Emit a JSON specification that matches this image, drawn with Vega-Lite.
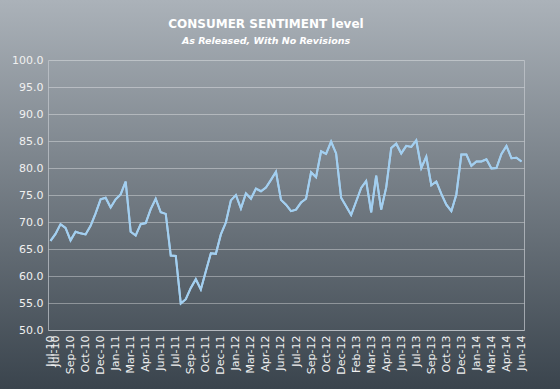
{
  "$schema": "https://vega.github.io/schema/vega-lite/v6.json",
  "width": 560,
  "height": 389,
  "autosize": {"type": "none"},
  "padding": 0,
  "background": "#3a444d",
  "title": {
    "text": "CONSUMER SENTIMENT level",
    "subtitle": "As Released, With No Revisions",
    "anchor": "middle",
    "frame": "group",
    "offset": -46,
    "dx": -14,
    "font": "DejaVu Sans",
    "fontSize": 12,
    "fontWeight": "bold",
    "color": "#ffffff",
    "subtitleFont": "DejaVu Sans",
    "subtitleFontSize": 9.5,
    "subtitleFontWeight": "bold",
    "subtitleFontStyle": "italic",
    "subtitleColor": "#ffffff",
    "subtitlePadding": 5
  },
  "data": {"values": [
    {"released": "2010-07-16", "sentiment": 66.5},
    {"released": "2010-07-30", "sentiment": 67.8},
    {"released": "2010-08-13", "sentiment": 69.6},
    {"released": "2010-08-27", "sentiment": 68.9},
    {"released": "2010-09-10", "sentiment": 66.6},
    {"released": "2010-09-24", "sentiment": 68.2},
    {"released": "2010-10-15", "sentiment": 67.9},
    {"released": "2010-10-29", "sentiment": 67.7},
    {"released": "2010-11-12", "sentiment": 69.3},
    {"released": "2010-11-24", "sentiment": 71.6},
    {"released": "2010-12-10", "sentiment": 74.2},
    {"released": "2010-12-22", "sentiment": 74.5},
    {"released": "2011-01-14", "sentiment": 72.7},
    {"released": "2011-01-28", "sentiment": 74.2},
    {"released": "2011-02-11", "sentiment": 75.1},
    {"released": "2011-02-25", "sentiment": 77.5},
    {"released": "2011-03-11", "sentiment": 68.2},
    {"released": "2011-03-25", "sentiment": 67.5},
    {"released": "2011-04-15", "sentiment": 69.6},
    {"released": "2011-04-29", "sentiment": 69.8},
    {"released": "2011-05-13", "sentiment": 72.4},
    {"released": "2011-05-27", "sentiment": 74.3},
    {"released": "2011-06-10", "sentiment": 71.8},
    {"released": "2011-06-24", "sentiment": 71.5},
    {"released": "2011-07-15", "sentiment": 63.8},
    {"released": "2011-07-29", "sentiment": 63.7},
    {"released": "2011-08-12", "sentiment": 54.9},
    {"released": "2011-08-26", "sentiment": 55.7},
    {"released": "2011-09-16", "sentiment": 57.8},
    {"released": "2011-09-30", "sentiment": 59.4},
    {"released": "2011-10-14", "sentiment": 57.5},
    {"released": "2011-10-28", "sentiment": 60.9},
    {"released": "2011-11-10", "sentiment": 64.2},
    {"released": "2011-11-23", "sentiment": 64.1},
    {"released": "2011-12-09", "sentiment": 67.7},
    {"released": "2011-12-22", "sentiment": 69.9},
    {"released": "2012-01-13", "sentiment": 74.0},
    {"released": "2012-01-27", "sentiment": 75.0},
    {"released": "2012-02-10", "sentiment": 72.5},
    {"released": "2012-02-24", "sentiment": 75.3},
    {"released": "2012-03-16", "sentiment": 74.3},
    {"released": "2012-03-30", "sentiment": 76.2},
    {"released": "2012-04-13", "sentiment": 75.7},
    {"released": "2012-04-27", "sentiment": 76.4},
    {"released": "2012-05-11", "sentiment": 77.8},
    {"released": "2012-05-25", "sentiment": 79.3},
    {"released": "2012-06-15", "sentiment": 74.1},
    {"released": "2012-06-29", "sentiment": 73.2},
    {"released": "2012-07-13", "sentiment": 72.0},
    {"released": "2012-07-27", "sentiment": 72.3},
    {"released": "2012-08-10", "sentiment": 73.6},
    {"released": "2012-08-31", "sentiment": 74.3},
    {"released": "2012-09-14", "sentiment": 79.2},
    {"released": "2012-09-28", "sentiment": 78.3},
    {"released": "2012-10-12", "sentiment": 83.1},
    {"released": "2012-10-26", "sentiment": 82.6},
    {"released": "2012-11-09", "sentiment": 84.9},
    {"released": "2012-11-21", "sentiment": 82.7},
    {"released": "2012-12-07", "sentiment": 74.5},
    {"released": "2012-12-21", "sentiment": 72.9},
    {"released": "2013-01-18", "sentiment": 71.3},
    {"released": "2013-02-01", "sentiment": 73.8},
    {"released": "2013-02-15", "sentiment": 76.3},
    {"released": "2013-03-01", "sentiment": 77.6},
    {"released": "2013-03-15", "sentiment": 71.8},
    {"released": "2013-03-28", "sentiment": 78.6},
    {"released": "2013-04-12", "sentiment": 72.3},
    {"released": "2013-04-26", "sentiment": 76.4},
    {"released": "2013-05-17", "sentiment": 83.7},
    {"released": "2013-05-31", "sentiment": 84.5},
    {"released": "2013-06-14", "sentiment": 82.7},
    {"released": "2013-06-28", "sentiment": 84.1},
    {"released": "2013-07-12", "sentiment": 83.9},
    {"released": "2013-07-26", "sentiment": 85.1},
    {"released": "2013-08-16", "sentiment": 80.0},
    {"released": "2013-08-30", "sentiment": 82.1},
    {"released": "2013-09-13", "sentiment": 76.8},
    {"released": "2013-09-27", "sentiment": 77.5},
    {"released": "2013-10-11", "sentiment": 75.2},
    {"released": "2013-10-25", "sentiment": 73.2},
    {"released": "2013-11-08", "sentiment": 72.0},
    {"released": "2013-11-22", "sentiment": 75.1},
    {"released": "2013-12-06", "sentiment": 82.5},
    {"released": "2013-12-20", "sentiment": 82.5},
    {"released": "2014-01-17", "sentiment": 80.4},
    {"released": "2014-01-31", "sentiment": 81.2},
    {"released": "2014-02-14", "sentiment": 81.2},
    {"released": "2014-02-28", "sentiment": 81.6},
    {"released": "2014-03-14", "sentiment": 79.9},
    {"released": "2014-03-28", "sentiment": 80.0},
    {"released": "2014-04-11", "sentiment": 82.6},
    {"released": "2014-04-25", "sentiment": 84.1},
    {"released": "2014-05-16", "sentiment": 81.8},
    {"released": "2014-05-30", "sentiment": 81.9},
    {"released": "2014-06-13", "sentiment": 81.2}
  ]},
  "layer": [
    {
      "mark": {"type": "line", "color": "#a3cff0", "strokeWidth": 2},
      "encoding": {
        "x": {
          "field": "released",
          "type": "ordinal",
          "sort": "ascending",
          "scale": {"type": "point", "padding": 0.5, "range": [48, 524]},
          "axis": {
            "title": null,
            "orient": "bottom",
            "offset": -59,
            "values": ["2010-07-16", "2010-07-30", "2010-09-10", "2010-10-29", "2010-12-10", "2011-01-28", "2011-03-11", "2011-04-29", "2011-06-10", "2011-07-29", "2011-09-16", "2011-10-28", "2011-12-09", "2012-01-27", "2012-03-16", "2012-04-27", "2012-06-15", "2012-07-27", "2012-09-14", "2012-10-26", "2012-12-07", "2013-02-01", "2013-03-15", "2013-04-26", "2013-06-14", "2013-07-26", "2013-09-13", "2013-10-25", "2013-12-06", "2014-01-31", "2014-03-14", "2014-04-25", "2014-06-13"],
            "labelExpr": "utcFormat(toDate(datum.value), '%b-%y')",
            "labelAngle": -90,
            "labelOverlap": false,
            "ticks": false,
            "domain": true,
            "domainColor": "#c4c9ce",
            "domainOpacity": 0.7,
            "grid": false,
            "labelPadding": 5,
            "labelFont": "DejaVu Sans",
            "labelFontSize": 11,
            "labelColor": "#f0f0f0"
          }
        },
        "y": {
          "field": "sentiment",
          "type": "quantitative",
          "scale": {"domain": [50, 100], "nice": false, "zero": false, "range": [330, 60]},
          "axis": {
            "title": null,
            "orient": "left",
            "offset": -48,
            "values": [50, 55, 60, 65, 70, 75, 80, 85, 90, 95, 100],
            "format": ".1f",
            "ticks": false,
            "domain": true,
            "domainColor": "#c4c9ce",
            "domainOpacity": 0.7,
            "labelPadding": 5,
            "labelFont": "DejaVu Sans",
            "labelFontSize": 11,
            "labelColor": "#f0f0f0",
            "gridColor": "#ffffff",
            "gridOpacity": 0.35,
            "gridWidth": 1
          }
        }
      }
    },
    {
      "mark": {"type": "line", "color": "#a3cff0", "strokeWidth": 2},
      "encoding": {
        "x": {"field": "released", "type": "ordinal", "sort": "ascending"},
        "y": {
          "field": "sentiment",
          "type": "quantitative",
          "scale": {"domain": [50, 100], "nice": false, "zero": false, "range": [330, 60]},
          "axis": {
            "title": null,
            "orient": "right",
            "offset": -36,
            "labels": false,
            "ticks": false,
            "grid": false,
            "domain": true,
            "domainColor": "#c4c9ce",
            "domainOpacity": 0.7
          }
        }
      }
    }
  ],
  "resolve": {"scale": {"y": "independent"}, "axis": {"y": "independent"}},
  "config": {
    "view": {
      "stroke": null,
      "fill": {"gradient": "linear", "x1": 0, "y1": 0, "x2": 0, "y2": 1, "stops": [{"offset": 0, "color": "#abb2b9"}, {"offset": 1, "color": "#3a444d"}]}
    }
  }
}
